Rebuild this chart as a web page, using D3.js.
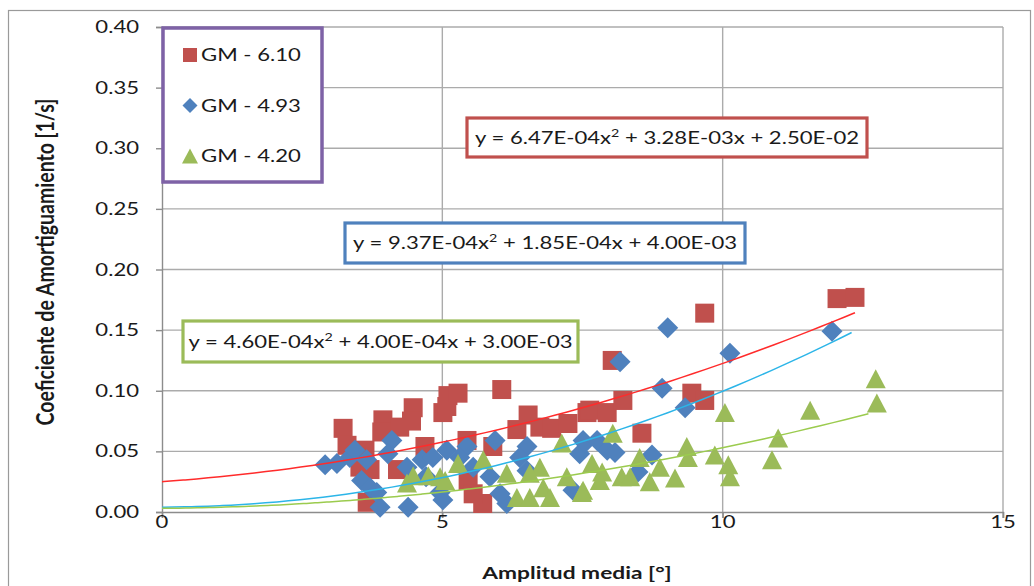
<!DOCTYPE html>
<html>
<head>
<meta charset="utf-8">
<script src="https://cdn.jsdelivr.net/npm/d3@7"></script>
<style>
body { margin: 0; background: #fff; }
text { font-family: Lato, "Open Sans", sans-serif; fill: #1a1a1a; }
</style>
</head>
<body>
<div id="chart"></div>
<script>
// axis ticks
const xTicks = [0, 5, 10, 15];
const yTicks = [0, 0.05, 0.10, 0.15, 0.20, 0.25, 0.30, 0.35, 0.40];

const seriesNames = ["GM - 6.10", "GM - 4.93", "GM - 4.20"];

// [amplitud media, coeficiente]
const gm610 = [[3.23,0.069],[3.30,0.055],[3.62,0.051],[3.53,0.037],[3.71,0.035],[3.66,0.008],[3.94,0.076],[3.92,0.066],
  [4.24,0.070],[4.48,0.086],[4.45,0.075],[4.20,0.035],[4.69,0.054],[5.01,0.082],[5.10,0.096],[5.08,0.087],[5.28,0.098],
  [6.06,0.101],[6.53,0.080],[6.33,0.068],[6.74,0.070],[6.95,0.069],[7.24,0.073],[7.58,0.082],[5.90,0.054],[5.44,0.059],
  [5.46,0.026],[5.72,0.007],[5.55,0.015],[7.63,0.084],[7.94,0.082],[8.03,0.125],[8.22,0.092],[8.56,0.065],[9.45,0.098],
  [9.68,0.092],[9.68,0.164],[12.04,0.176],[12.36,0.177]];
const gm493 = [[2.91,0.039],[3.12,0.040],[3.35,0.045],[3.44,0.051],[3.65,0.043],[3.56,0.026],[3.71,0.020],[3.89,0.004],
  [4.10,0.059],[4.03,0.048],[3.83,0.016],[4.39,0.004],[4.37,0.037],[4.64,0.043],[4.83,0.045],[4.96,0.016],[5.01,0.010],
  [4.71,0.029],[5.08,0.051],[5.44,0.054],[5.94,0.059],[5.31,0.045],[5.55,0.037],[5.85,0.029],[6.51,0.054],[6.38,0.045],
  [6.51,0.034],[6.15,0.007],[6.03,0.015],[7.51,0.059],[7.45,0.048],[7.33,0.018],[8.17,0.124],[8.92,0.102],[9.33,0.086],
  [7.54,0.057],[7.76,0.059],[7.94,0.051],[8.08,0.049],[8.74,0.047],[8.49,0.033],[10.13,0.131],[9.02,0.152],[11.95,0.149]];
const gm420 = [[4.48,0.030],[4.75,0.030],[4.96,0.029],[4.37,0.024],[5.28,0.040],[5.73,0.043],[5.05,0.026],[6.15,0.032],
  [6.33,0.012],[6.56,0.012],[6.74,0.037],[6.80,0.020],[7.13,0.057],[7.22,0.029],[7.51,0.018],[6.92,0.012],[6.56,0.032],
  [8.04,0.065],[7.67,0.040],[7.85,0.033],[7.49,0.016],[7.81,0.026],[8.20,0.029],[8.35,0.029],[8.52,0.045],[8.70,0.025],
  [8.88,0.037],[9.15,0.028],[9.36,0.054],[9.38,0.045],[9.86,0.047],[10.04,0.082],[10.10,0.039],[10.13,0.029],
  [10.99,0.061],[10.88,0.043],[11.56,0.084],[12.73,0.110],[12.75,0.090]];

// polynomial trendlines (a x^2 + b x + c) and where they stop
const fit610 = [6.47e-4, 3.28e-3, 2.50e-2];
const fit493 = [9.37e-4, 1.85e-4, 4.00e-3];
const fit420 = [4.60e-4, 4.00e-4, 3.00e-3];
const trendEnd = [12.36, 12.3, 12.6];

// equation labels, split around the superscript
const eqLabels = [
  ["y = 6.47E-04x", "2", " + 3.28E-03x + 2.50E-02"],
  ["y = 9.37E-04x", "2", " + 1.85E-04x + 4.00E-03"],
  ["y = 4.60E-04x", "2", " + 4.00E-04x + 3.00E-03"]
];

const width = 1034, height = 586;
const SX = 1.3; // the original is stretched sideways

const markerFill = ["#C0504D", "#4F81BD", "#9BBB59"];
const lineColor = ["#FF2B2B", "#2CB5E8", "#9BCB4E"];
const boxColor = ["#C0504D", "#4F81BD", "#9BBB59"];

const graph = d3.select("div#chart").append("svg")
  .attr("width", width).attr("height", height);

// outer chart border
graph.append("rect")
  .attr("x", 8.5).attr("y", 10.5).attr("width", 1022).attr("height", 590)
  .attr("fill", "#fff").attr("stroke", "#9a9a9a").attr("stroke-width", 1.2);

const xScale = d3.scaleLinear().domain([0, 15]).range([162, 1003]);
const yScale = d3.scaleLinear().domain([0, 0.40]).range([512, 27]);

function txt(g, x, y, s, size, weight, anchor) {
  return g.append("text")
    .attr("transform", `translate(${x},${y}) scale(${SX},1)`)
    .attr("font-size", size)
    .attr("font-weight", weight || "normal")
    .attr("text-anchor", anchor || "start")
    .text(s);
}

// gridlines
graph.append("g").selectAll("line").data(yTicks.slice(1)).enter().append("line")
  .attr("x1", xScale(0)).attr("x2", xScale(15))
  .attr("y1", d => yScale(d)).attr("y2", d => yScale(d))
  .attr("stroke", "#ababab").attr("stroke-width", 1.4);
graph.append("g").selectAll("line").data(xTicks.slice(1)).enter().append("line")
  .attr("x1", d => xScale(d)).attr("x2", d => xScale(d))
  .attr("y1", yScale(0.40)).attr("y2", yScale(0) + 6)
  .attr("stroke", "#ababab").attr("stroke-width", 1.4);

// axes
const xAxis = d3.axisBottom(xScale).tickValues(xTicks).tickSize(6).tickFormat("");
const yAxis = d3.axisLeft(yScale).tickValues(yTicks).tickSize(6).tickFormat("");
graph.append("g").attr("class", "x axis")
  .attr("transform", `translate(0, ${yScale(0)})`).call(xAxis);
graph.append("g").attr("class", "y axis")
  .attr("transform", `translate(${xScale(0)}, 0)`).call(yAxis);
graph.selectAll(".axis path, .axis line").attr("stroke", "#8c8c8c").attr("stroke-width", 1.4);

const labels = graph.append("g");
yTicks.forEach(d => txt(labels, 139, yScale(d) + 6, d.toFixed(2), 17, "normal", "end"));
xTicks.forEach(d => txt(labels, xScale(d), 528, String(d), 17, "normal", "middle"));

txt(labels, 577, 579, "Amplitud media [°]", 17.5, "bold", "middle");
labels.append("text")
  .attr("transform", `translate(54,${262}) rotate(-90) scale(1,${SX})`)
  .attr("font-size", 19.5).attr("font-weight", "bold").attr("text-anchor", "middle")
  .text("Coeficiente de Amortiguamiento [1/s]");

// marker shapes
function square(s) { return `M${-s/2},${-s/2}h${s}v${s}h${-s}Z`; }
function diamond(s) { return `M0,${-s/2}L${s/2},0L0,${s/2}L${-s/2},0Z`; }
function triangle(w, h) { return `M0,${-h/2}L${w/2},${h/2}L${-w/2},${h/2}Z`; }
const shapes = [square(19), diamond(21), triangle(20, 19)];

const data = [gm610, gm493, gm420];
data.forEach((ser, i) => {
  graph.append("g").selectAll("path").data(ser).enter().append("path")
    .attr("d", shapes[i])
    .attr("transform", d => `translate(${xScale(d[0])},${yScale(d[1])})`)
    .attr("fill", markerFill[i]);
});

// trendlines
const fits = [fit610, fit493, fit420];
const line = d3.line().curve(d3.curveBasis).x(d => xScale(d[0])).y(d => yScale(d[1]));
fits.forEach((f, i) => {
  const pts = d3.range(0, trendEnd[i] + 0.001, trendEnd[i] / 60).map(x => [x, f[0]*x*x + f[1]*x + f[2]]);
  graph.append("path").datum(pts)
    .attr("fill", "none").attr("stroke", lineColor[i]).attr("stroke-width", 1.5)
    .attr("d", line);
});

// equation boxes
const eqBoxes = [[467, 118, 400, 39], [345, 223, 400, 40], [183, 321, 395, 41]];
eqLabels.forEach((lab, i) => {
  const b = eqBoxes[i];
  graph.append("rect").attr("x", b[0]).attr("y", b[1]).attr("width", b[2]).attr("height", b[3])
    .attr("fill", "#fff").attr("stroke", boxColor[i]).attr("stroke-width", 3.2);
  const t = txt(graph, b[0] + b[2] / 2, b[1] + b[3] / 2 + 6, "", 17, "normal", "middle");
  t.append("tspan").text(lab[0]);
  t.append("tspan").attr("font-size", 11).attr("dy", -7).text(lab[1]);
  t.append("tspan").attr("dy", 7).text(lab[2]);
});

// legend
const legend = graph.append("g");
legend.append("rect").attr("x", 163).attr("y", 28).attr("width", 159).attr("height", 154)
  .attr("fill", "#fff").attr("stroke", "#7E62A6").attr("stroke-width", 3.5);
const legendShapes = [square(14), diamond(15), triangle(16, 15)];
seriesNames.forEach((n, i) => {
  const cy = 55 + 50.5 * i;
  legend.append("path").attr("d", legendShapes[i])
    .attr("transform", `translate(190,${cy})`).attr("fill", markerFill[i]);
  txt(legend, 201, cy + 6, n, 17, "normal", "start");
});
</script>
</body>
</html>
